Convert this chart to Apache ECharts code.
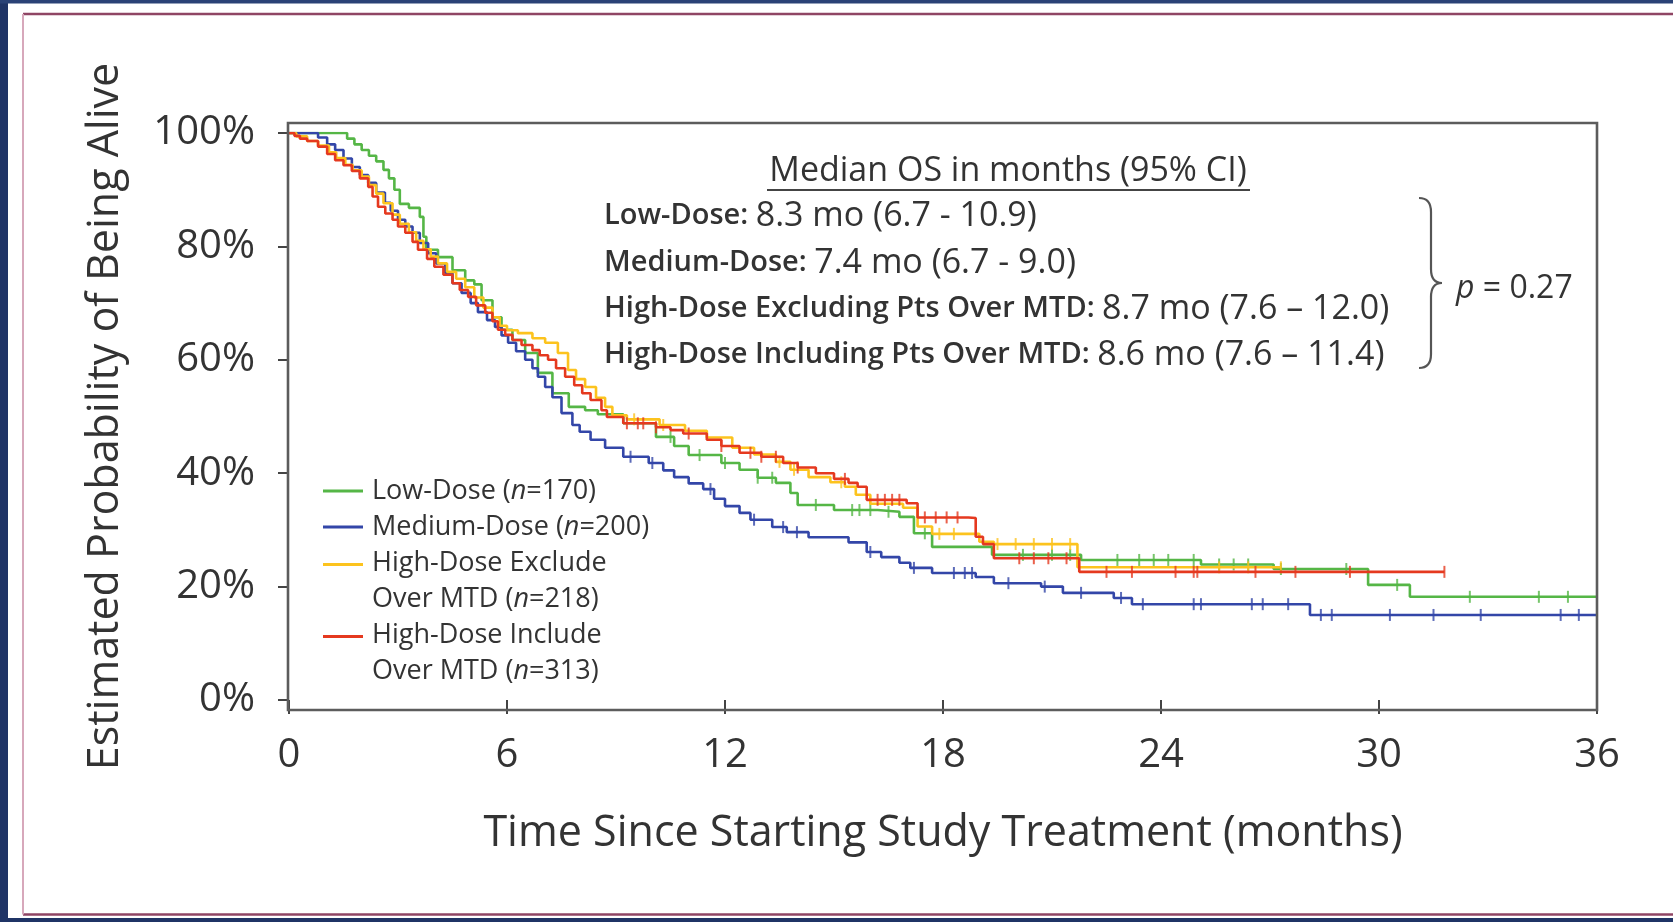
<!DOCTYPE html>
<html><head><meta charset="utf-8">
<script src="https://cdn.jsdelivr.net/npm/echarts@6/dist/echarts.min.js"></script>
<style>html,body{margin:0;padding:0;background:#fff;}#c{width:1673px;height:922px;}</style>
</head><body><div id="c"></div>
<script>
// ---------- data ----------
const xTicks = [0, 6, 12, 18, 24, 30, 36];
const yTicks = [0, 20, 40, 60, 80, 100];
const seriesNames = ['Low-Dose', 'Medium-Dose', 'High-Dose Exclude Over MTD', 'High-Dose Include Over MTD'];
const legendLabels = ['Low-Dose ({i|n}=170)', 'Medium-Dose ({i|n}=200)', 'High-Dose Exclude\nOver MTD ({i|n}=218)', 'High-Dose Include\nOver MTD ({i|n}=313)'];
const seriesColors = ['#55b646', '#3346a8', '#fcc31e', '#e5391f'];
const xTitle = 'Time Since Starting Study Treatment (months)';
const yTitle = 'Estimated Probability of Being Alive';
const medianTitle = 'Median OS in months (95% CI)';
const medianLabels = ['Low-Dose:', 'Medium-Dose:', 'High-Dose Excluding Pts Over MTD:', 'High-Dose Including Pts Over MTD:'];
const medianValues = ['8.3 mo (6.7 - 10.9)', '7.4 mo (6.7 - 9.0)', '8.7 mo (7.6 \u2013 12.0)', '8.6 mo (7.6 \u2013 11.4)'];
const pValue = '0.27';

// Kaplan-Meier step points [month, % alive]
const lowDose = [[0,100],[1.45,100],[1.6,99],[1.8,98],[2.0,97],[2.2,96],[2.4,95],[2.6,93.5],[2.75,92],[2.9,90],[3.05,87.5],[3.3,86.8],[3.6,85.2],[3.7,81.7],[3.78,79.4],[4.1,78.1],[4.5,75.8],[4.85,74],[5.1,73.3],[5.3,70.5],[5.6,67.5],[5.85,65.3],[6.15,63.5],[6.5,61.2],[6.85,57.7],[7.25,54.1],[7.7,51.7],[8.15,51.1],[8.5,50.4],[9.2,48.8],[10.1,46.4],[10.6,44.8],[11.0,43.2],[11.9,41.8],[12.4,40.6],[12.9,39.2],[13.4,38.3],[13.8,36.5],[14.0,34.4],[15.0,33.5],[16.2,33.2],[16.8,32.3],[17.2,29.4],[17.7,27],[19.35,25.6],[21.8,24.7],[25.1,23.9],[27.1,23.1],[29.7,20.3],[30.85,18.2],[36,18.2]];
const mediumDose = [[0,100],[0.45,100],[0.8,99.2],[1.05,98],[1.27,97],[1.5,95.5],[1.73,94],[1.95,92.6],[2.18,91.2],[2.4,89.5],[2.64,87.7],[2.8,86.3],[3.0,84.7],[3.2,83.5],[3.4,82.4],[3.6,80.6],[3.83,78.8],[4.05,77],[4.3,75.3],[4.5,73.5],[4.75,71.8],[5.0,70],[5.2,68.4],[5.45,67],[5.67,65.8],[5.85,64.3],[6.03,63],[6.25,61.5],[6.5,60],[6.7,58.5],[6.85,57],[7.05,55.2],[7.25,53.4],[7.5,50.6],[7.8,48.5],[8.0,47.3],[8.3,45.9],[8.7,44.5],[9.2,42.9],[9.9,41.8],[10.3,40.5],[10.6,39.3],[11.0,38.2],[11.4,37.2],[11.7,35.5],[12.0,34.2],[12.4,33],[12.7,31.8],[13.3,30.5],[13.7,29.6],[14.3,28.7],[15.4,27.8],[15.9,26.1],[16.3,25.2],[16.8,24.2],[17.1,23.3],[17.7,22.4],[18.9,21.7],[19.4,20.6],[20.7,20],[21.3,18.9],[22.7,18],[23.2,16.9],[28.1,15],[36,15]];
const highExclude = [[0,100],[0.2,99.4],[0.5,98.6],[0.8,97.8],[1.1,96.6],[1.3,95.6],[1.55,94.4],[1.75,93.4],[2.0,92.3],[2.2,90.8],[2.4,89.3],[2.6,87.6],[2.85,85.6],[3.05,84],[3.3,82.5],[3.5,81],[3.7,79.5],[3.9,78.2],[4.1,77],[4.35,75.5],[4.6,74.3],[4.85,72.8],[5.1,71],[5.35,69.2],[5.6,67.5],[5.8,66],[6.0,65.2],[6.3,64.7],[6.7,63.8],[7.05,63],[7.4,61.2],[7.68,58.2],[7.9,56.6],[8.15,55.2],[8.45,53.3],[8.7,51.7],[8.9,50.2],[9.3,49.5],[10.2,48.5],[10.9,47.5],[11.5,46.3],[12.2,44.5],[12.8,43.3],[13.4,42],[13.8,40.6],[14.3,39.3],[14.9,38.4],[15.3,37.6],[15.6,36.2],[16.0,34.6],[16.9,33.9],[17.3,30.6],[17.7,29.3],[18.9,29.3],[19.0,27.9],[19.4,27.5],[21.7,23.4],[27.3,23.4]];
const highInclude = [[0,100],[0.15,99.5],[0.3,99],[0.5,98.6],[0.8,97.6],[1.05,96.3],[1.27,95.2],[1.5,94.3],[1.73,93.3],[1.95,92],[2.18,90.5],[2.3,88.8],[2.45,87],[2.65,85.8],[2.85,84.7],[3.0,83.5],[3.2,82.4],[3.4,80.8],[3.55,79.4],[3.8,77.8],[4.0,76.4],[4.25,75],[4.5,73.5],[4.7,72.3],[4.93,71.1],[5.15,69.6],[5.4,68.3],[5.6,66.8],[5.75,65.3],[5.95,64.4],[6.15,63.5],[6.4,62.6],[6.7,61.7],[6.9,60.8],[7.13,60],[7.35,58.5],[7.6,57],[7.85,55.5],[8.07,54.1],[8.3,52.9],[8.6,51.1],[8.75,49.9],[9.2,48.8],[10.1,48.1],[10.5,47.6],[10.85,47],[11.5,45.9],[11.9,44.8],[12.4,43.6],[13.0,42.9],[13.6,41.8],[14.0,41],[14.5,40],[15.0,39],[15.4,38.3],[15.65,37.6],[15.9,35.3],[17.0,34.7],[17.3,32.2],[18.7,32.1],[18.9,28.8],[19.1,27.5],[19.4,25],[21.75,22.6],[31.8,22.6]];

// censoring times (months)
const lowCensor = [10.5,11.3,12.0,12.9,13.3,14.5,15.5,15.7,16.0,16.5,17.5,20.2,21.0,21.5,22.8,23.4,23.8,24.2,24.9,25.6,26.0,26.4,27.3,29.1,30.5,32.5,34.4,35.2];
const mediumCensor = [9.4,10.0,11.6,12.8,13.6,13.98,16.0,17.2,18.3,18.6,18.8,19.8,20.8,21.8,22.9,23.5,24.9,25.1,26.5,26.8,27.5,28.4,28.7,30.3,31.5,32.8,35.0,35.5];
const excludeCensor = [9.5,10.3,13.5,13.9,15.2,17.9,18.3,19.5,20.0,20.5,21.0,21.5,25.6,26.4,27.3];
const includeCensor = [9.3,9.6,9.75,10.1,11.0,11.9,12.7,13.0,13.4,14.0,15.3,16.2,16.4,16.6,16.8,17.5,17.8,18.1,18.4,20.1,20.5,20.9,21.4,22.5,23.2,24.4,24.9,25.0,26.6,27.7,29.2,31.8];

// ---------- chart ----------
const FONT = '"Open Sans", "Noto Sans", sans-serif';
const TXT = '#333333';
const curves = [lowDose, mediumDose, highExclude, highInclude];
const censors = [lowCensor, mediumCensor, excludeCensor, includeCensor];
function stepValue(curve, t) {
  let v = curve[0][1];
  for (const p of curve) { if (p[0] <= t) v = p[1]; else break; }
  return v;
}
const singleIcon = 'path://M0,0 M44,36 M0,16.5 h40 v3 h-40 z';
const doubleIcon = 'path://M44,36 M0,0 h40 v3 h-40 z';

const series = [];
curves.forEach((c, i) => {
  series.push({
    name: seriesNames[i], type: 'line', step: 'end', data: c, showSymbol: false,
    lineStyle: { color: seriesColors[i], width: 2.6 }, itemStyle: { color: seriesColors[i] },
    z: 3 + i, silent: true
  });
});
censors.forEach((cs, i) => {
  series.push({
    name: seriesNames[i] + ' censored', type: 'scatter', symbol: 'rect', symbolSize: [2, 12],
    data: cs.map(t => [t, stepValue(curves[i], t)]),
    itemStyle: { color: seriesColors[i] }, z: 3 + i, silent: true
  });
});

const chart = echarts.init(document.getElementById('c'), null, { renderer: 'canvas' });
chart.setOption({
  animation: false,
  backgroundColor: '#ffffff',
  textStyle: { fontFamily: FONT },
  grid: { left: 289, right: 76, top: 133, bottom: 222 },
  xAxis: {
    type: 'value', min: xTicks[0], max: xTicks[xTicks.length - 1], interval: 6, offset: 10,
    axisLine: { show: false },
    axisTick: { show: true, length: 14, lineStyle: { color: '#444', width: 2 } },
    axisLabel: { fontSize: 40, color: TXT, margin: 26, fontFamily: FONT },
    splitLine: { show: false },
    name: xTitle, nameLocation: 'middle', nameGap: 102,
    nameTextStyle: { fontSize: 43, color: TXT, fontFamily: FONT }
  },
  yAxis: {
    type: 'value', min: yTicks[0], max: yTicks[yTicks.length - 1], interval: 20,
    axisLine: { show: false },
    axisTick: { show: true, length: 11, lineStyle: { color: '#444', width: 2 } },
    axisLabel: { fontSize: 40, color: TXT, margin: 34, formatter: '{value}%', fontFamily: FONT },
    splitLine: { show: false },
    name: yTitle, nameLocation: 'middle', nameGap: 162,
    nameTextStyle: { fontSize: 43, color: TXT, fontFamily: FONT }
  },
  legend: {
    orient: 'vertical', left: 323, top: 473, padding: 0, itemGap: 0,
    itemWidth: 44, itemHeight: 36, selectedMode: false,
    data: seriesNames.map((n, i) => ({ name: n, icon: legendLabels[i].indexOf('\n') >= 0 ? doubleIcon : singleIcon })),
    formatter: name => legendLabels[seriesNames.indexOf(name)],
    textStyle: { fontSize: 27, lineHeight: 36, color: TXT, fontFamily: FONT,
      rich: { i: { fontSize: 27, lineHeight: 36, fontStyle: 'italic', color: TXT, fontFamily: FONT } } }
  },
  series: series
});

// frame + annotations
const p0 = chart.convertToPixel({ gridIndex: 0 }, [xTicks[0], yTicks[0]]);
const p1 = chart.convertToPixel({ gridIndex: 0 }, [xTicks[xTicks.length - 1], yTicks[yTicks.length - 1]]);
const fx = p0[0] - 1, fy = p1[1] - 10, fw = p1[0] - p0[0] + 1, fh = p0[1] - p1[1] + 20;
const BR = '#555555';

const graphics = [
  // page background pieces
  { type: 'rect', shape: { x: 0, y: 0, width: 8, height: 922 }, style: { fill: '#1f3466' }, silent: true },
  { type: 'rect', shape: { x: 0, y: 0, width: 1673, height: 3.5 }, style: { fill: '#2a4276' }, silent: true },
  { type: 'rect', shape: { x: 0, y: 918, width: 1673, height: 4 }, style: { fill: '#1f3466' }, silent: true },
  { type: 'line', shape: { x1: 23, y1: 14, x2: 1673, y2: 14 }, style: { stroke: '#8f4564', lineWidth: 2.5 }, silent: true },
  { type: 'line', shape: { x1: 23, y1: 914.5, x2: 1673, y2: 914.5 }, style: { stroke: '#8f4564', lineWidth: 2.5 }, silent: true },
  { type: 'line', shape: { x1: 23, y1: 14, x2: 23, y2: 914.5 }, style: { stroke: '#d7a8bb', lineWidth: 2 }, silent: true },
  // plot frame
  { type: 'rect', shape: { x: fx, y: fy, width: fw, height: fh }, style: { fill: null, stroke: '#5c5c5c', lineWidth: 2.6 }, silent: true, z: 10 },
  // median OS title
  { type: 'text', x: 1008, y: 171, style: { text: medianTitle, font: '34px ' + FONT, fill: TXT, align: 'center', verticalAlign: 'middle' }, silent: true },
  { type: 'line', shape: { x1: 767, y1: 190, x2: 1250, y2: 190 }, style: { stroke: '#444', lineWidth: 2 }, silent: true },
  // brace
  { type: 'bezierCurve', shape: { x1: 1419, y1: 198, x2: 1431, y2: 212, cpx1: 1431, cpy1: 198 }, style: { fill: null, stroke: BR, lineWidth: 2.2 }, silent: true },
  { type: 'line', shape: { x1: 1431, y1: 212, x2: 1431, y2: 269 }, style: { stroke: BR, lineWidth: 2.2 }, silent: true },
  { type: 'bezierCurve', shape: { x1: 1431, y1: 269, x2: 1442, y2: 283, cpx1: 1431, cpy1: 283 }, style: { fill: null, stroke: BR, lineWidth: 2.2 }, silent: true },
  { type: 'bezierCurve', shape: { x1: 1442, y1: 283, x2: 1431, y2: 297, cpx1: 1431, cpy1: 283 }, style: { fill: null, stroke: BR, lineWidth: 2.2 }, silent: true },
  { type: 'line', shape: { x1: 1431, y1: 297, x2: 1431, y2: 354 }, style: { stroke: BR, lineWidth: 2.2 }, silent: true },
  { type: 'bezierCurve', shape: { x1: 1431, y1: 354, x2: 1419, y2: 368, cpx1: 1431, cpy1: 368 }, style: { fill: null, stroke: BR, lineWidth: 2.2 }, silent: true },
  { type: 'text', x: 1456, y: 289, silent: true,
    style: { text: '{i|p} = ' + pValue, font: '32px ' + FONT, fill: TXT, verticalAlign: 'middle',
      rich: { i: { fontStyle: 'italic', fontSize: 32, fontFamily: FONT, fill: TXT } } } }
];
const rowY = [216, 263, 309, 355];
medianLabels.forEach((l, i) => {
  graphics.push({ type: 'text', x: 604, y: rowY[i], silent: true,
    style: { text: '{l|' + l + ' }{v|' + medianValues[i] + '}', verticalAlign: 'middle', fill: TXT,
      rich: { l: { fontSize: 29, fontWeight: 600, fontFamily: FONT, fill: TXT },
              v: { fontSize: 34, fontFamily: FONT, fill: TXT } } } });
});
chart.setOption({ graphic: graphics });
</script></body></html>
